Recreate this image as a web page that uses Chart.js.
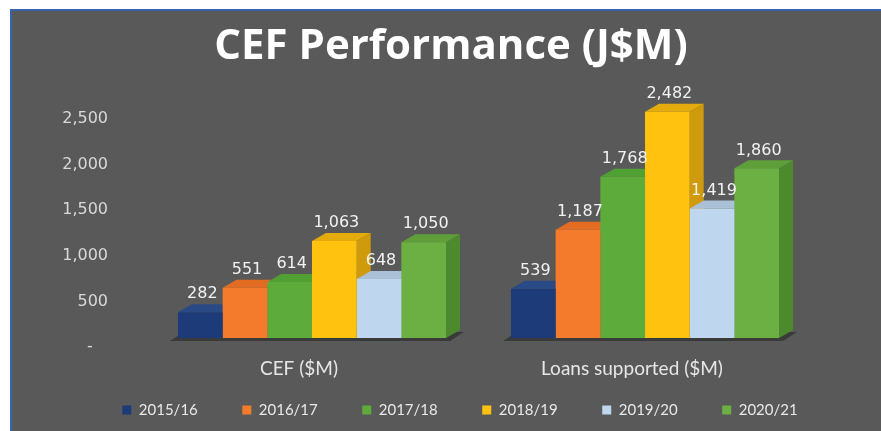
<!DOCTYPE html>
<html>
<head>
<meta charset="utf-8">
<script src="https://cdn.jsdelivr.net/npm/chart.js@4.4.1/dist/chart.umd.min.js"></script>
<style>
  html, body { margin: 0; padding: 0; background: #fff; }
  #wrap {
    position: absolute; left: 10px; top: 9px;
    width: 869px; height: 420px;
    border-top: 2px solid #3a63ad; border-left: 2px solid #3a63ad;
    background: #595959;
  }
</style>
</head>
<body>
<div id="wrap"><canvas id="chart"></canvas></div>
<script>
// data
var categories = ['CEF ($M)', 'Loans supported ($M)'];
var years = ['2015/16', '2016/17', '2017/18', '2018/19', '2019/20', '2020/21'];
var fy2015 = [282, 539];
var fy2016 = [551, 1187];
var fy2017 = [614, 1768];
var fy2018 = [1063, 2482];
var fy2019 = [648, 1419];
var fy2020 = [1050, 1860];
var yTicks = [0, 500, 1000, 1500, 2000, 2500];

// styles
var frontColors = ['#1d3b78', '#f37b2b', '#5dab3b', '#ffc30f', '#bed7ee', '#6cb043'];
var topColors   = ['#2a4a86', '#e26d22', '#50a033', '#e3ac0c', '#a9c0d6', '#5e9f3a'];
var sideColors  = ['#162e5e', '#c9601c', '#44882b', '#cf9a0c', '#9cb2c8', '#4d8a2e'];
var DX = 14, DY = 8;

var series = [fy2015, fy2016, fy2017, fy2018, fy2019, fy2020];

function fmt(v) { return v.toLocaleString('en-US'); }

// fake 3d: top + side faces behind the flat bars, and a floor
var depth3d = {
  id: 'depth3d',
  afterLayout: function (chart) {
    // legend sits a little higher / further right than chart.js puts it
    var lg = chart.legend;
    lg.top -= 23;
    lg.left += 9; lg.right += 9;
  },
  beforeDatasetsDraw: function (chart) {
    var ctx = chart.ctx;
    ctx.save();
    for (var j = 0; j < categories.length; j++) {
      var first = chart.getDatasetMeta(0).data[j];
      var last = chart.getDatasetMeta(series.length - 1).data[j];
      var L = first.x - first.width / 2 - 8, R = last.x + last.width / 2 + 4, b = first.base;
      ctx.fillStyle = '#3a3a3a';
      ctx.beginPath();
      ctx.moveTo(L, b + 3); ctx.lineTo(R, b + 3); ctx.lineTo(R + DX, b - DY + 2); ctx.lineTo(L + DX, b - DY + 2);
      ctx.closePath(); ctx.fill();
      for (var i = 0; i < series.length; i++) {
        var bar = chart.getDatasetMeta(i).data[j];
        var l = bar.x - bar.width / 2, r = bar.x + bar.width / 2, y = bar.y, base = bar.base;
        ctx.fillStyle = sideColors[i];
        ctx.beginPath();
        ctx.moveTo(r, y); ctx.lineTo(r + DX, y - DY); ctx.lineTo(r + DX, base - DY); ctx.lineTo(r, base);
        ctx.closePath(); ctx.fill();
        ctx.fillStyle = topColors[i];
        ctx.beginPath();
        ctx.moveTo(l, y); ctx.lineTo(r, y); ctx.lineTo(r + DX, y - DY); ctx.lineTo(l + DX, y - DY);
        ctx.closePath(); ctx.fill();
      }
    }
    ctx.restore();
  },
  afterDatasetsDraw: function (chart) {
    var ctx = chart.ctx;
    ctx.save();
    ctx.font = '16px "DejaVu Sans"';
    ctx.fillStyle = '#f2f2f2';
    ctx.textAlign = 'center';
    ctx.textBaseline = 'middle';
    for (var i = 0; i < series.length; i++) {
      chart.getDatasetMeta(i).data.forEach(function (bar, j) {
        ctx.fillText(fmt(series[i][j]), bar.x + 2, bar.y - DY - 10);
      });
    }
    ctx.restore();
  }
};

var datasets = years.map(function (y, i) {
  return {
    label: y,
    data: series[i],
    backgroundColor: frontColors[i],
    borderWidth: 0,
    barPercentage: 1,
    categoryPercentage: 0.805
  };
});

var ctx = document.getElementById('chart').getContext('2d');
var myChart = new Chart(ctx, {
  type: 'bar',
  data: { labels: categories, datasets: datasets },
  plugins: [depth3d],
  options: {
    responsive: true,
    maintainAspectRatio: false,
    animation: false,
    layout: { padding: { top: 0, left: 30, right: 21, bottom: 0 } },
    plugins: {
      tooltip: { enabled: false },
      title: {
        display: true,
        text: 'CEF Performance (J$M)',
        color: '#ffffff',
        font: { family: 'Open Sans', size: 42, weight: 'bold' },
        padding: { top: 11, bottom: 37.6 }
      },
      legend: {
        position: 'bottom',
        maxHeight: 50,
        labels: {
          color: '#e8e8e8',
          font: { family: 'Lato', size: 15 },
          boxWidth: 9,
          boxHeight: 9,
          padding: 44.5
        }
      }
    },
    scales: {
      x: {
        grid: { display: false, drawTicks: false },
        border: { display: false },
        ticks: { color: '#e6e6e6', font: { family: 'Lato', size: 19 }, padding: 19.6, labelOffset: -13 },
        afterFit: function (s) { s.height = 43; }
      },
      y: {
        min: 0,
        max: 2500,
        grid: { display: false, drawTicks: false },
        border: { display: false },
        afterBuildTicks: function (s) { s.ticks = yTicks.map(function (v) { return { value: v }; }); },
        afterFit: function (s) { s.width = 103.5; },
        ticks: {
          color: '#d9d9d9',
          font: { family: 'DejaVu Sans', size: 16 },
          padding: 37.5,
          labelOffset: 9,
          callback: function (v) { return v === 0 ? '-   ' : fmt(v); }
        }
      },
      // empty right-hand box, keeps the plot where it is in the original
      spacer: {
        type: 'linear',
        position: 'right',
        grid: { display: false },
        border: { display: false },
        ticks: { display: false },
        afterFit: function (s) { s.width = 48.5; }
      }
    }
  }
});
</script>
</body>
</html>
